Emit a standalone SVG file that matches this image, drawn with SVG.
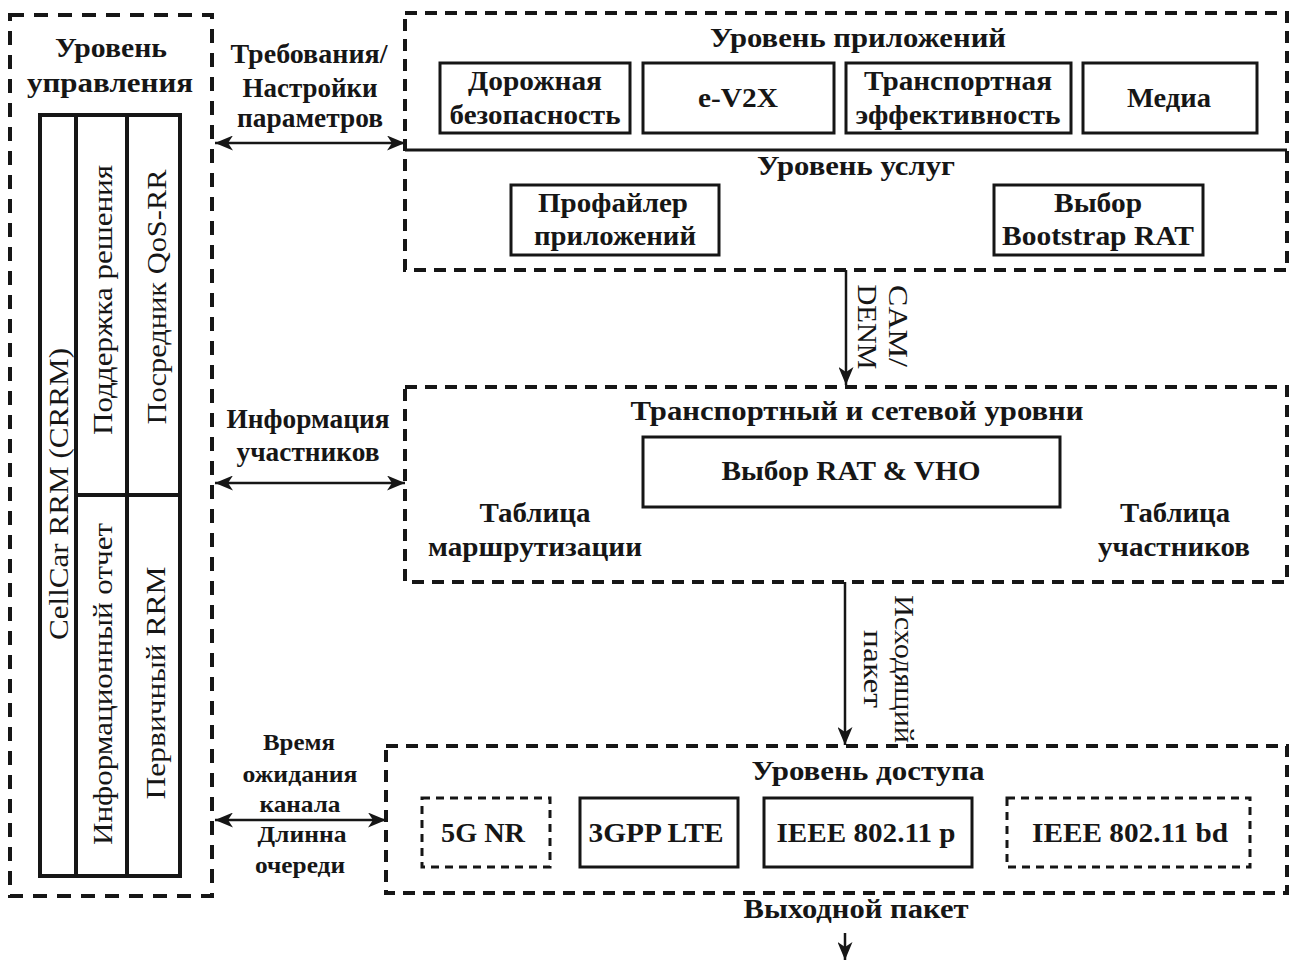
<svg xmlns="http://www.w3.org/2000/svg" width="1292" height="962" viewBox="0 0 1292 962">
<defs>
<style>
text{font-family:"Liberation Serif","Times New Roman",serif;fill:#161616;text-anchor:middle}
.b{font-weight:bold;font-size:27px}
.h{font-weight:bold;font-size:28px}
.s{font-weight:bold;font-size:24px}
.r{font-weight:normal;font-size:28px}
.dl{fill:none;stroke:#161616;stroke-width:4;stroke-dasharray:14 10}
.dr{fill:none;stroke:#161616;stroke-width:4;stroke-dasharray:12 8}
.ds{fill:#fff;stroke:#161616;stroke-width:3;stroke-dasharray:8 6}
.box{fill:#fff;stroke:#161616;stroke-width:3}
.ln{fill:none;stroke:#161616;stroke-width:4}
.ar{fill:none;stroke:#161616;stroke-width:2.5}
</style>
<marker id="ah" viewBox="0 0 18 15" refX="18" refY="7.5" markerWidth="18" markerHeight="15" markerUnits="userSpaceOnUse" orient="auto-start-reverse">
<path d="M0,0 L18,7.5 L0,15 L5,7.5 Z" fill="#161616"/>
</marker>
</defs>
<rect width="1292" height="962" fill="#fff"/>

<g id="control-layer">
<rect class="dl" x="10" y="15" width="202" height="881"/>
<text class="h" x="111" y="57" textLength="112" lengthAdjust="spacingAndGlyphs">Уровень</text>
<text class="h" x="110" y="92" textLength="166" lengthAdjust="spacingAndGlyphs">управления</text>
<rect class="ln" x="40" y="115" width="140" height="761"/>
<line class="ln" x1="76" y1="115" x2="76" y2="876"/>
<line class="ln" x1="127" y1="115" x2="127" y2="876"/>
<line class="ln" x1="76" y1="495" x2="180" y2="495"/>
<text class="r" transform="translate(68,494) rotate(-90)" textLength="292" lengthAdjust="spacingAndGlyphs">CellCar RRM (CRRM)</text>
<text class="r" transform="translate(112,300) rotate(-90)" textLength="270" lengthAdjust="spacingAndGlyphs">Поддержка решения</text>
<text class="r" transform="translate(166,297) rotate(-90)" textLength="255" lengthAdjust="spacingAndGlyphs">Посредник QoS-RR</text>
<text class="r" transform="translate(112,684) rotate(-90)" textLength="322" lengthAdjust="spacingAndGlyphs">Информационный отчет</text>
<text class="r" transform="translate(165,683) rotate(-90)" textLength="233" lengthAdjust="spacingAndGlyphs">Первичный RRM</text>
</g>

<g id="app-service-layer">
<rect class="dr" x="405" y="13" width="882" height="257"/>
<line x1="405" y1="150" x2="1287" y2="150" stroke="#161616" stroke-width="3"/>
<text class="h" x="858" y="47" textLength="296" lengthAdjust="spacingAndGlyphs">Уровень приложений</text>
<g id="road-safety"><rect class="box" x="440" y="63" width="190" height="70"/>
<text class="b" x="535" y="90" textLength="134" lengthAdjust="spacingAndGlyphs">Дорожная</text>
<text class="b" x="535" y="124" textLength="171" lengthAdjust="spacingAndGlyphs">безопасность</text></g>
<g id="ev2x"><rect class="box" x="643" y="63" width="191" height="70"/>
<text class="b" x="738" y="107" textLength="80" lengthAdjust="spacingAndGlyphs">e-V2X</text></g>
<g id="transport-eff"><rect class="box" x="846" y="63" width="225" height="70"/>
<text class="b" x="958" y="90" textLength="188" lengthAdjust="spacingAndGlyphs">Транспортная</text>
<text class="b" x="958" y="124" textLength="205" lengthAdjust="spacingAndGlyphs">эффективность</text></g>
<g id="media"><rect class="box" x="1083" y="63" width="174" height="70"/>
<text class="b" x="1169" y="107" textLength="84" lengthAdjust="spacingAndGlyphs">Медиа</text></g>
<text class="h" x="856" y="175" textLength="198" lengthAdjust="spacingAndGlyphs">Уровень услуг</text>
<g id="profiler"><rect class="box" x="511" y="185" width="208" height="70"/>
<text class="b" x="613" y="212" textLength="150" lengthAdjust="spacingAndGlyphs">Профайлер</text>
<text class="b" x="615" y="245" textLength="162" lengthAdjust="spacingAndGlyphs">приложений</text></g>
<g id="bootstrap"><rect class="box" x="994" y="185" width="209" height="70"/>
<text class="b" x="1098" y="212" textLength="88" lengthAdjust="spacingAndGlyphs">Выбор</text>
<text class="b" x="1098" y="245" textLength="192" lengthAdjust="spacingAndGlyphs">Bootstrap RAT</text></g>
</g>

<g id="transport-layer">
<rect class="dr" x="405" y="387" width="882" height="195"/>
<text class="h" x="857" y="420" textLength="453" lengthAdjust="spacingAndGlyphs">Транспортный и сетевой уровни</text>
<g id="rat-vho"><rect class="box" x="643" y="437" width="417" height="70"/>
<text class="b" x="851" y="480" textLength="259" lengthAdjust="spacingAndGlyphs">Выбор RAT &amp; VHO</text></g>
<text class="b" x="535" y="522" textLength="111" lengthAdjust="spacingAndGlyphs">Таблица</text>
<text class="b" x="535" y="556" textLength="214" lengthAdjust="spacingAndGlyphs">маршрутизации</text>
<text class="b" x="1175" y="522" textLength="110" lengthAdjust="spacingAndGlyphs">Таблица</text>
<text class="b" x="1174" y="556" textLength="152" lengthAdjust="spacingAndGlyphs">участников</text>
</g>

<g id="access-layer">
<rect class="dr" x="386" y="746" width="901" height="147"/>
<text class="h" x="868" y="780" textLength="233" lengthAdjust="spacingAndGlyphs">Уровень доступа</text>
<g id="nr5g"><rect class="ds" x="422" y="798" width="128" height="69"/>
<text class="b" x="483" y="842" textLength="84" lengthAdjust="spacingAndGlyphs">5G NR</text></g>
<g id="lte"><rect class="box" x="580" y="798" width="158" height="69"/>
<text class="b" x="656" y="842" textLength="135" lengthAdjust="spacingAndGlyphs">3GPP LTE</text></g>
<g id="p80211p"><rect class="box" x="764" y="798" width="208" height="69"/>
<text class="b" x="866" y="842" textLength="179" lengthAdjust="spacingAndGlyphs">IEEE 802.11 p</text></g>
<g id="p80211bd"><rect class="ds" x="1007" y="798" width="243" height="69"/>
<text class="b" x="1130" y="842" textLength="196" lengthAdjust="spacingAndGlyphs">IEEE 802.11 bd</text></g>
</g>

<g id="connectors">
<line class="ar" x1="215" y1="143" x2="405" y2="143" marker-start="url(#ah)" marker-end="url(#ah)"/>
<text class="b" x="309" y="63" textLength="157" lengthAdjust="spacingAndGlyphs">Требования/</text>
<text class="b" x="310" y="97" textLength="135" lengthAdjust="spacingAndGlyphs">Настройки</text>
<text class="b" x="310" y="127" textLength="146" lengthAdjust="spacingAndGlyphs">параметров</text>

<line class="ar" x1="215" y1="483" x2="405" y2="483" marker-start="url(#ah)" marker-end="url(#ah)"/>
<text class="b" x="308" y="428" textLength="163" lengthAdjust="spacingAndGlyphs">Информация</text>
<text class="b" x="308" y="461" textLength="143" lengthAdjust="spacingAndGlyphs">участников</text>

<line class="ar" x1="215" y1="820" x2="386" y2="820" marker-start="url(#ah)" marker-end="url(#ah)"/>
<text class="s" x="299" y="750" textLength="72" lengthAdjust="spacingAndGlyphs">Время</text>
<text class="s" x="300" y="782" textLength="115" lengthAdjust="spacingAndGlyphs">ожидания</text>
<text class="s" x="300" y="812" textLength="81" lengthAdjust="spacingAndGlyphs">канала</text>
<text class="s" x="302" y="842" textLength="89" lengthAdjust="spacingAndGlyphs">Длинна</text>
<text class="s" x="300" y="873" textLength="90" lengthAdjust="spacingAndGlyphs">очереди</text>

<line class="ar" x1="846" y1="270" x2="846" y2="385" marker-end="url(#ah)"/>
<text class="r" transform="translate(889,326) rotate(90)" textLength="82" lengthAdjust="spacingAndGlyphs">CAM/</text>
<text class="r" transform="translate(858,327) rotate(90)" textLength="85" lengthAdjust="spacingAndGlyphs">DENM</text>

<line class="ar" x1="845" y1="582" x2="845" y2="745" marker-end="url(#ah)"/>
<text class="r" transform="translate(895,669) rotate(90)" textLength="148" lengthAdjust="spacingAndGlyphs">Исходящий</text>
<text class="r" transform="translate(864,669) rotate(90)" textLength="78" lengthAdjust="spacingAndGlyphs">пакет</text>

<text class="h" x="856" y="918" textLength="225" lengthAdjust="spacingAndGlyphs">Выходной пакет</text>
<line class="ar" x1="845" y1="933" x2="845" y2="960" marker-end="url(#ah)"/>
</g>
</svg>
